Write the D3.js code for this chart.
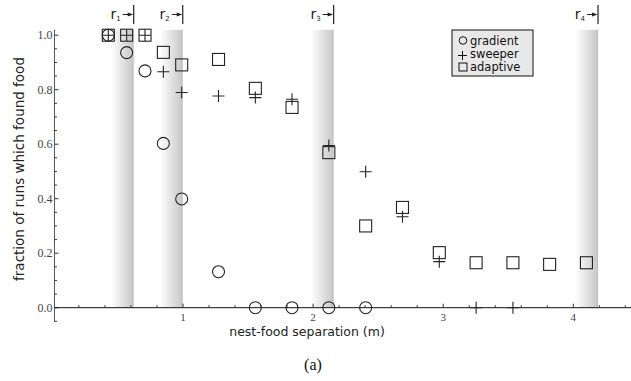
<!DOCTYPE html>
<html>
<head>
<meta charset="utf-8">
<script src="https://cdn.jsdelivr.net/npm/d3@7"></script>
<style>
  body { margin: 0; background: #fff; }
  svg { display: block; }
</style>
</head>
<body>
<div id="chart"></div>
<script>
// separations tested (m)
const separations = [0.426, 0.567, 0.708, 0.849, 0.990, 1.273, 1.556, 1.838, 2.121, 2.404, 2.687, 2.970, 3.253, 3.536, 3.818, 4.101]

// fraction of runs which found food, null = not run
const gradient = [1.0, 0.936, 0.869, 0.603, 0.399, 0.132, 0, 0, 0, 0, null, null, null, null, null, null]
const sweeper  = [1.0, 1.0, 1.0, 0.866, 0.79, 0.777, 0.771, 0.765, 0.595, 0.499, 0.334, 0.169, 0, 0, null, null]
const adaptive = [1.0, 1.0, 1.0, 0.937, 0.891, 0.911, 0.805, 0.735, 0.569, 0.30, 0.368, 0.202, 0.165, 0.165, 0.159, 0.165]

// sensing ranges r1..r4 (right edge of the shaded bands)
const ranges = [0.621, 0.998, 2.158, 4.19]
const rangeLabels = ["1", "2", "3", "4"]
const bandWidth = 0.175

const yTicks = [0, 0.2, 0.4, 0.6, 0.8, 1.0]
const xTicks = [1, 2, 3, 4]

const W = 631, H = 381

const svg = d3.select("#chart")
    .append("svg")
    .attr("width", W)
    .attr("height", H)

// scales
const x = d3.scaleLinear().domain([0, 4]).range([52.9, 573.3])
const y = d3.scaleLinear().domain([0, 1]).range([307.7, 35.2])

// gradient for the shaded bands
const defs = svg.append("defs")
const grad = defs.append("linearGradient")
    .attr("id", "band")
    .attr("x1", "0%").attr("x2", "100%")
    .attr("y1", "0%").attr("y2", "0%")
grad.append("stop").attr("offset", "0%").attr("stop-color", "#ffffff")
grad.append("stop").attr("offset", "90%").attr("stop-color", "#cccccc")
grad.append("stop").attr("offset", "100%").attr("stop-color", "#bdbdbd")

// bands
svg.selectAll(".band")
    .data(ranges)
    .join("rect")
    .attr("class", "band")
    .attr("x", d => x(d - bandWidth))
    .attr("width", d => x(d) - x(d - bandWidth))
    .attr("y", y(1.02))
    .attr("height", y(0) - y(1.02))
    .style("fill", "url(#band)")

// r labels with arrows
const rg = svg.selectAll(".rlab")
    .data(ranges)
    .join("g")
    .attr("class", "rlab")
    .attr("transform", d => `translate(${x(d)},0)`)
rg.append("line")
    .attr("x1", 0).attr("x2", 0)
    .attr("y1", 5).attr("y2", 24)
    .style("stroke", "#222").style("stroke-width", 1.2)
rg.append("line")
    .attr("x1", -11).attr("x2", -3)
    .attr("y1", 14.5).attr("y2", 14.5)
    .style("stroke", "#222").style("stroke-width", 1)
rg.append("path")
    .attr("d", "M -6 12.5 L -0.5 14.5 L -6 16.5 Z")
    .style("fill", "#222")
const rt = rg.append("text")
    .attr("x", -13)
    .attr("y", 19)
    .attr("text-anchor", "end")
    .style("font-family", "DejaVu Sans, sans-serif")
    .style("font-size", "14px")
    .style("fill", "#222")
rt.append("tspan").text("r")
rt.append("tspan")
    .attr("dy", 2)
    .style("font-size", "7px")
    .text((d, i) => rangeLabels[i])

// y axis
const yAxis = svg.append("g")
    .attr("transform", `translate(${x(0.012)},0)`)
yAxis.append("line")
    .attr("y1", y(1.02)).attr("y2", y(-0.052))
    .style("stroke", "#555")
yAxis.selectAll(".minor")
    .data(d3.range(-0.05, 1.01, 0.05).filter(v => Math.abs(Math.round(v * 5) - v * 5) > 0.01))
    .join("line")
    .attr("x1", 0).attr("x2", 2.5)
    .attr("y1", d => y(d)).attr("y2", d => y(d))
    .style("stroke", "#333")
yAxis.selectAll(".major")
    .data(yTicks)
    .join("line")
    .attr("x1", 0).attr("x2", 4)
    .attr("y1", d => y(d)).attr("y2", d => y(d))
    .style("stroke", "#333")
yAxis.selectAll("text")
    .data(yTicks)
    .join("text")
    .attr("x", -2)
    .attr("y", d => y(d) + 4)
    .attr("text-anchor", "end")
    .style("font-family", "Liberation Serif, serif")
    .style("font-size", "12px")
    .style("fill", "#444")
    .text(d => d.toFixed(1))

// x axis
const xAxis = svg.append("g")
    .attr("transform", `translate(0,${y(0)})`)
xAxis.append("line")
    .attr("x1", x(0.012)).attr("x2", W)
    .style("stroke", "#111")
xAxis.selectAll(".minor")
    .data(d3.range(0.2, 4.61, 0.2).filter(v => Math.abs(Math.round(v) - v) > 0.01))
    .join("line")
    .attr("x1", d => x(d)).attr("x2", d => x(d))
    .attr("y1", 0).attr("y2", -2.5)
    .style("stroke", "#333")
xAxis.selectAll(".major")
    .data(xTicks)
    .join("line")
    .attr("x1", d => x(d)).attr("x2", d => x(d))
    .attr("y1", 0).attr("y2", -4)
    .style("stroke", "#333")
xAxis.selectAll("text")
    .data(xTicks)
    .join("text")
    .attr("x", d => x(d))
    .attr("y", 13)
    .attr("text-anchor", "middle")
    .style("font-family", "Liberation Serif, serif")
    .style("font-size", "11px")
    .style("fill", "#444")
    .text(d => d)

// axis labels
svg.append("text")
    .attr("x", 307)
    .attr("y", 336)
    .attr("text-anchor", "middle")
    .style("font-family", "DejaVu Sans, sans-serif")
    .style("font-size", "12.5px")
    .style("fill", "#222")
    .text("nest-food separation (m)")

svg.append("text")
    .attr("transform", "translate(24,169) rotate(-90)")
    .attr("text-anchor", "middle")
    .style("font-family", "DejaVu Sans, sans-serif")
    .style("font-size", "13.5px")
    .style("fill", "#222")
    .text("fraction of runs which found food")

svg.append("text")
    .attr("x", 313)
    .attr("y", 370)
    .attr("text-anchor", "middle")
    .style("font-family", "Liberation Serif, serif")
    .style("font-size", "16px")
    .style("fill", "#111")
    .text("(a)")

// markers
const markStroke = "#222"
function pts(vals) {
    return separations.map((s, i) => ({s: s, v: vals[i]})).filter(d => d.v !== null)
}

svg.append("g").selectAll("circle")
    .data(pts(gradient))
    .join("circle")
    .attr("cx", d => x(d.s))
    .attr("cy", d => y(d.v))
    .attr("r", 6)
    .style("fill", "none")
    .style("stroke", markStroke)
    .style("stroke-width", 1.1)

svg.append("g").selectAll("path")
    .data(pts(sweeper))
    .join("path")
    .attr("d", d => `M ${x(d.s) - 6} ${y(d.v)} H ${x(d.s) + 6} M ${x(d.s)} ${y(d.v) - 6} V ${y(d.v) + 6}`)
    .style("fill", "none")
    .style("stroke", markStroke)
    .style("stroke-width", 1.1)

svg.append("g").selectAll("rect")
    .data(pts(adaptive))
    .join("rect")
    .attr("x", d => x(d.s) - 6)
    .attr("y", d => y(d.v) - 6)
    .attr("width", 12)
    .attr("height", 12)
    .style("fill", "none")
    .style("stroke", markStroke)
    .style("stroke-width", 1.1)

// legend
const leg = svg.append("g").attr("transform", "translate(452,30)")
leg.append("rect")
    .attr("width", 81).attr("height", 46)
    .style("fill", "#e8e8e8")
    .style("stroke", "#111")
const legItems = ["gradient", "sweeper", "adaptive"]
legItems.forEach((name, i) => {
    const cy = 10.5 + i * 13
    if (i == 0) {
        leg.append("circle").attr("cx", 11).attr("cy", cy).attr("r", 3.8)
            .style("fill", "none").style("stroke", "#111")
    } else if (i == 1) {
        leg.append("path").attr("d", `M 6 ${cy + 2} H 15 M 10.5 ${cy - 2.5} V ${cy + 6.5}`)
            .style("fill", "none").style("stroke", "#111")
    } else {
        leg.append("rect").attr("x", 7).attr("y", cy - 3.5).attr("width", 8).attr("height", 8)
            .style("fill", "none").style("stroke", "#111")
    }
    leg.append("text")
        .attr("x", 18)
        .attr("y", cy + 4)
        .style("font-family", "DejaVu Sans, sans-serif")
        .style("font-size", "11.5px")
        .style("fill", "#111")
        .text(name)
})
</script>
</body>
</html>
